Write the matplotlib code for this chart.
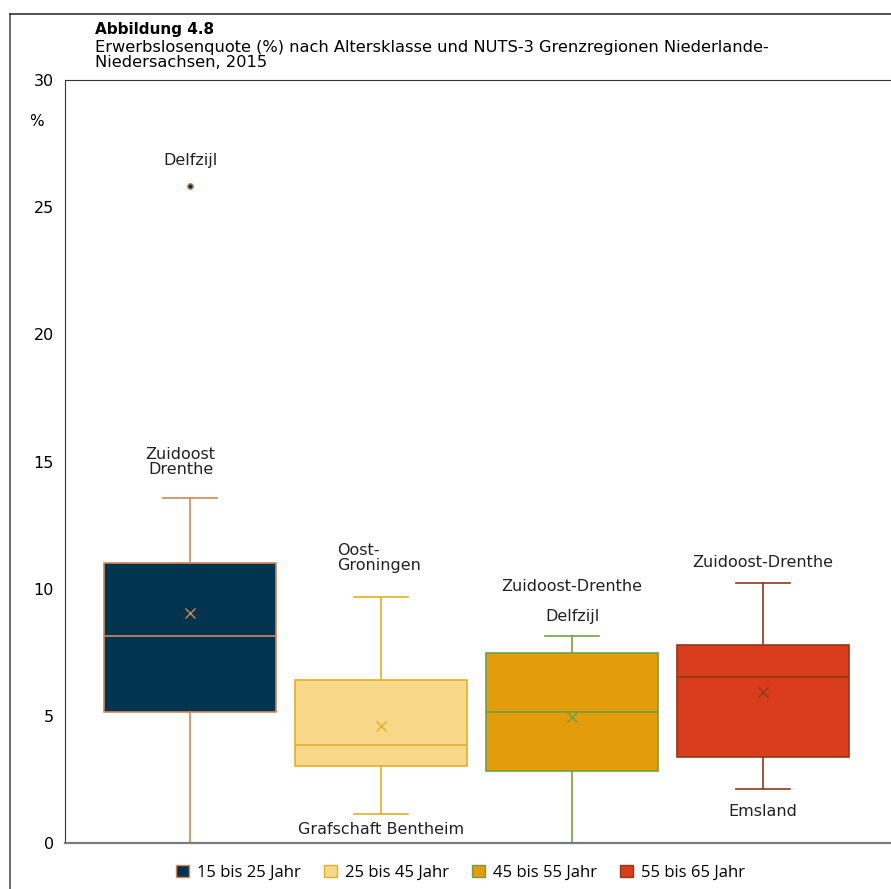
import matplotlib.pyplot as plt
from matplotlib.lines import Line2D
from matplotlib.patches import Patch

plt.rcParams["font.family"] = ["DejaVu Sans"]

# values (% unemployment)
groups = ["15 bis 25 Jahr", "25 bis 45 Jahr", "45 bis 55 Jahr", "55 bis 65 Jahr"]
whisker_low = [0.0, 1.14, 0.0, 2.12]
q1 = [5.15, 3.03, 2.83, 3.38]
median = [8.14, 3.85, 5.15, 6.53]
q3 = [11.01, 6.41, 7.47, 7.79]
whisker_high = [13.57, 9.67, 8.14, 10.22]
means = [9.04, 4.60, 4.95, 5.94]
outliers = [[25.83], [], [], []]

fill_colors = ["#03344f", "#f8d888", "#e29c0c", "#d93d1b"]
edge_colors = ["#d0875a", "#e0b02a", "#72a040", "#8e3a1c"]

# region annotations: (group index, value position, text, alignment)
annotations = [
    (0, 26.55, "Delfzijl", "center"),
    (0, 14.4, "Zuidoost\nDrenthe", "center"),
    (1, 10.6, "Oost-\nGroningen", "left"),
    (1, 0.25, "Grafschaft Bentheim", "center"),
    (2, 9.8, "Zuidoost-Drenthe", "center"),
    (2, 8.6, "Delfzijl", "center"),
    (3, 10.75, "Zuidoost-Drenthe", "center"),
    (3, 0.95, "Emsland", "center"),
]

fig = plt.figure(figsize=(8.91, 8.89), dpi=100)
ax = fig.add_axes([0.073, 0.0517, 0.927, 0.8583])

stats = []
for i in range(len(groups)):
    stats.append(dict(whislo=whisker_low[i], q1=q1[i], med=median[i], q3=q3[i],
                      whishi=whisker_high[i], mean=means[i], fliers=outliers[i]))

for i, st in enumerate(stats):
    ec = edge_colors[i]
    ax.bxp([st], positions=[i], widths=0.9, patch_artist=True, showmeans=True,
           boxprops=dict(facecolor=fill_colors[i], edgecolor=ec, linewidth=1.2),
           medianprops=dict(color=ec, linewidth=1.2),
           whiskerprops=dict(color=ec, linewidth=1.2),
           capprops=dict(color=ec, linewidth=1.2),
           capwidths=0.28,
           meanprops=dict(marker="x", markeredgecolor=ec, markersize=7, markeredgewidth=1.0),
           flierprops=dict(marker="o", markerfacecolor="#03344f", markeredgecolor=ec, markersize=4))

for idx, y, text, ha in annotations:
    x = idx - 0.23 if ha == "left" else idx
    if idx == 0 and "\n" in text:
        x = idx - 0.05
    ax.text(x, y, text, ha=ha, va="bottom", fontsize=11.5, color="#222222", linespacing=1.0)

ax.set_xlim(-0.655, 3.67)
ax.set_ylim(0, 30)
ax.set_yticks([0, 5, 10, 15, 20, 25, 30])
ax.set_xticks([])
ax.tick_params(axis="y", length=0, pad=8, labelsize=11.5)
ax.spines["right"].set_visible(False)
for side in ("left", "top"):
    ax.spines[side].set_color("#333333")
ax.spines["bottom"].set_color("#7a7a7a")
ax.spines["bottom"].set_linewidth(1.6)
ax.text(-0.035, 0.945, "%", transform=ax.transAxes, ha="center", va="center", fontsize=11)

# titles
fig.text(0.1066, 0.967, "Abbildung 4.8", fontsize=11, fontweight="bold", va="center")
fig.text(0.1066, 0.938, "Erwerbslosenquote (%) nach Altersklasse und NUTS-3 Grenzregionen Niederlande-\nNiedersachsen, 2015",
         fontsize=11.7, va="center", linespacing=1.0)

# outer frame (left and top)
fig.add_artist(Line2D([0.0112, 0.0112], [0, 0.984], color="#555555", linewidth=1.2))
fig.add_artist(Line2D([0.0112, 1], [0.984, 0.984], color="#333333", linewidth=1.2))

handles = [Patch(facecolor=fill_colors[i], edgecolor=edge_colors[i], label=g) for i, g in enumerate(groups)]
fig.legend(handles=handles, loc="center", bbox_to_anchor=(0.517, 0.018), ncol=4, frameon=False,
           prop={"family": "Open Sans", "size": 12}, handlelength=0.75, handleheight=0.75,
           handletextpad=0.5, columnspacing=1.4)

fig.savefig("out.png", dpi=100)
